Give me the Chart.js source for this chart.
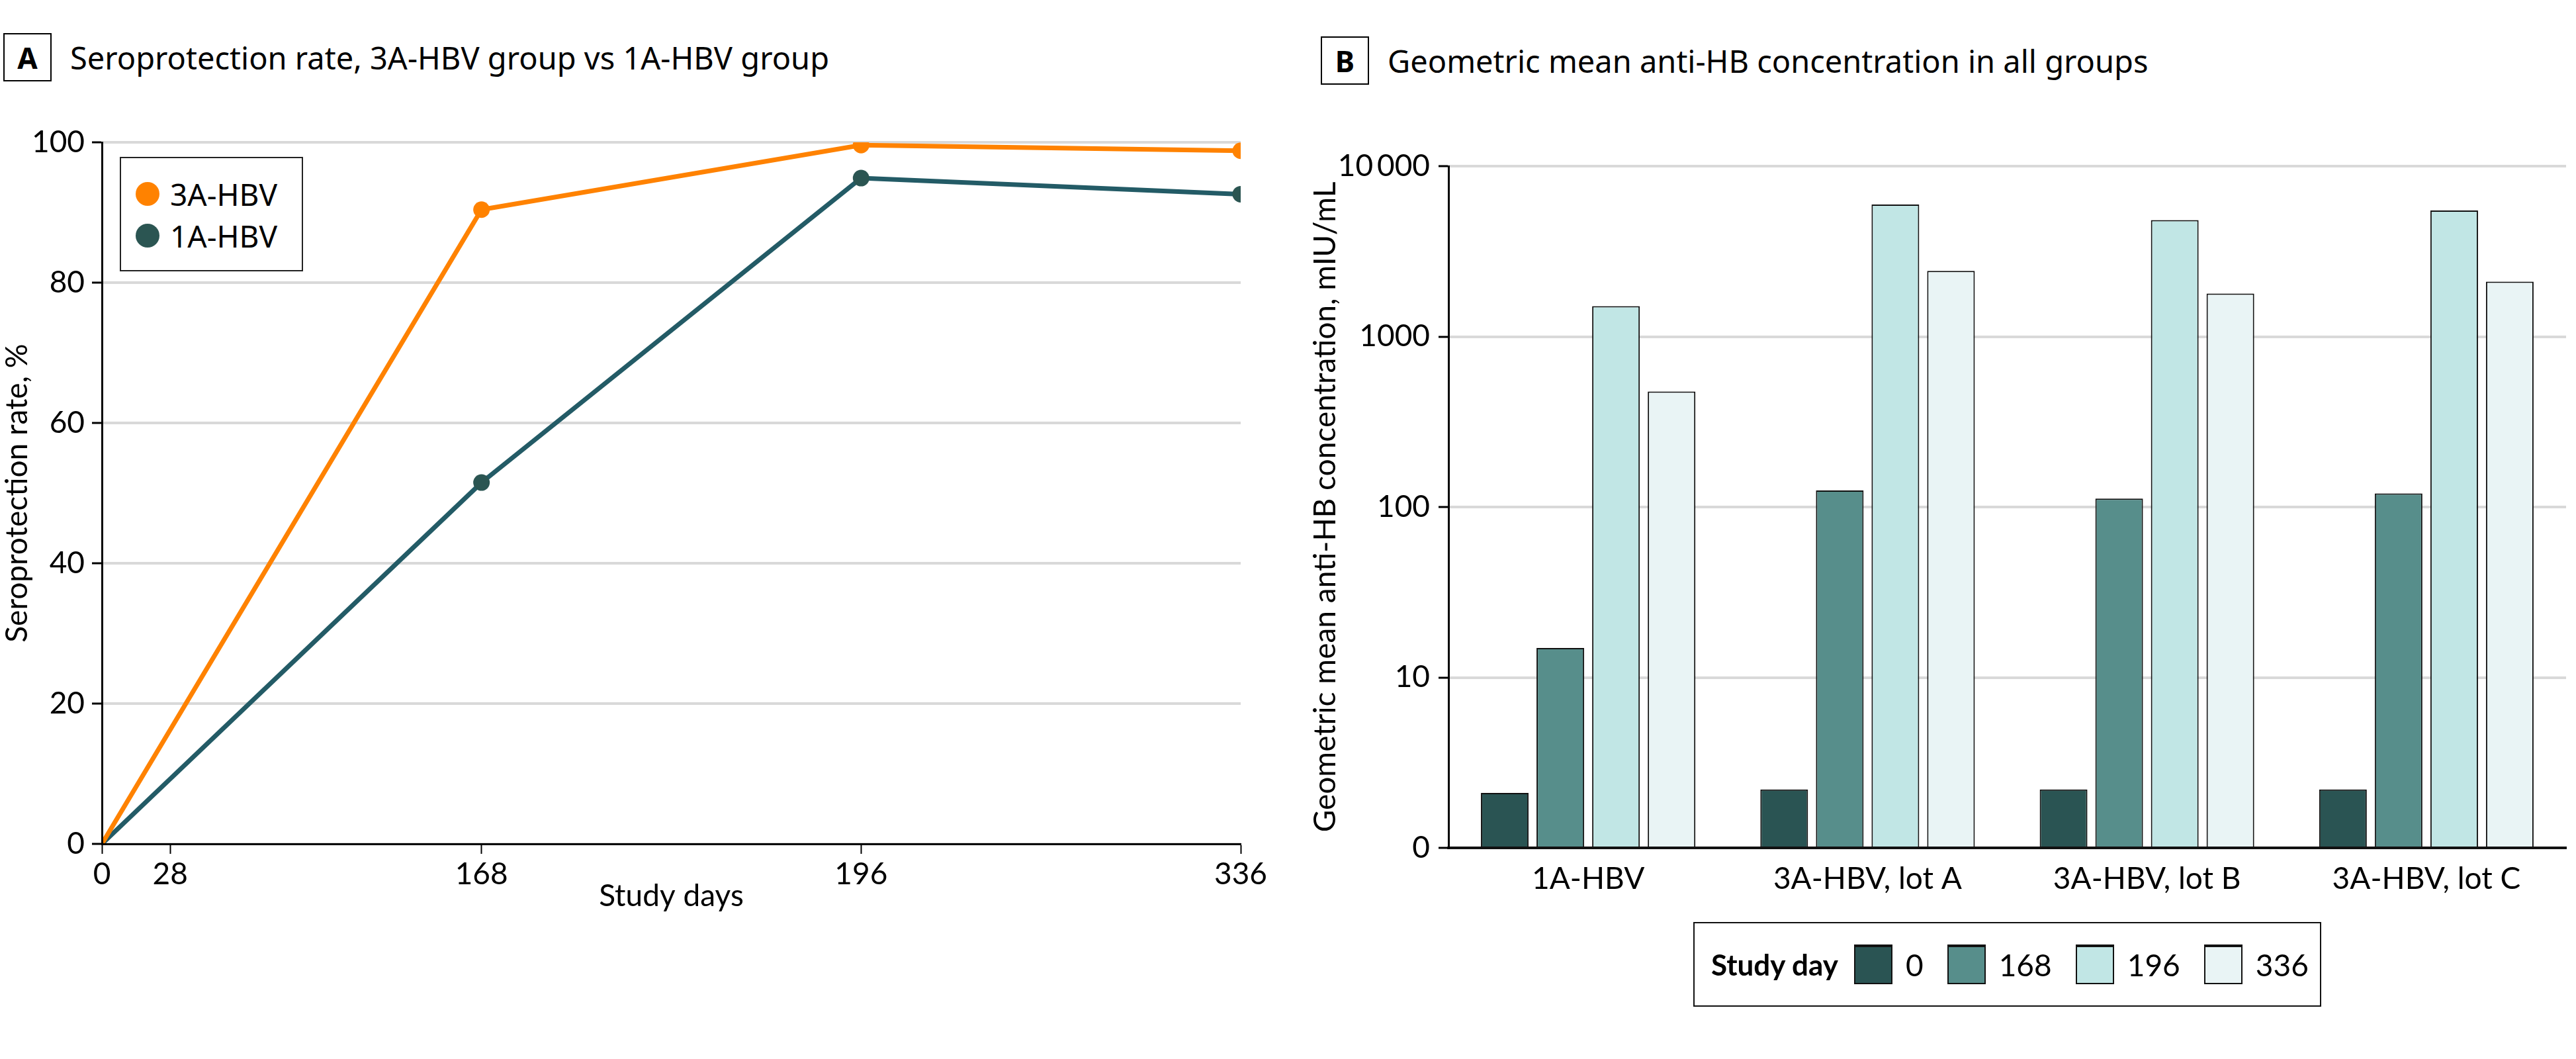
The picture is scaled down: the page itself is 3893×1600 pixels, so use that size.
<!DOCTYPE html>
<html>
<head>
<meta charset="utf-8">
<script src="https://cdn.jsdelivr.net/npm/chart.js@4.4.1/dist/chart.umd.min.js"></script>
<style>
    html, body { margin: 0; padding: 0; background: #fff; }
    body { width: 3893px; height: 1600px; position: relative; overflow: hidden; font-family: Lato, "Noto Sans", sans-serif; color: #000; }
    .head { position: absolute; display: flex; align-items: center; height: 73px; }
    .head .tag { box-sizing: border-box; width: 73px; height: 73px; border: 2px solid #000; display: flex; align-items: center; justify-content: center; font-weight: bold; font-size: 44px; font-family: "Noto Sans", sans-serif; }
    .head .ttl { font-size: 47px; margin-left: 28px; white-space: nowrap; font-family: "Noto Sans", sans-serif; }
    canvas { position: absolute; top: 0; }
    #legendA { position: absolute; left: 181px; top: 237px; width: 277px; height: 173px; box-sizing: border-box; border: 2px solid #222; background: #fff; padding: 22px 0 0 22px; font-family: "Noto Sans", sans-serif; }
    #legendA .row { display: flex; align-items: center; height: 63px; font-size: 46px; white-space: nowrap; }
    #legendA .dot { width: 36px; height: 36px; border-radius: 50%; margin-right: 16px; }
    #legendB { position: absolute; left: 2559px; top: 1393px; width: 949px; height: 128px; box-sizing: border-box; border: 2px solid #111; display: flex; align-items: center; padding-left: 25px; font-size: 46px; white-space: nowrap; }
    #legendB .lbl { font-weight: bold; font-size: 44px; margin-right: 24px; }
    #legendB .sw { box-sizing: border-box; width: 58px; height: 60px; border: 2px solid #111; border-top-width: 4px; margin-right: 20px; flex: none; }
    #legendB .txt { margin-right: 36px; }
</style>
</head>
<body>
<div class="head" style="left:5px;top:50px"><div class="tag">A</div><div class="ttl">Seroprotection rate, 3A-HBV group vs 1A-HBV group</div></div>
<div class="head" style="left:1996px;top:55px"><div class="tag">B</div><div class="ttl">Geometric mean anti-HB concentration in all groups</div></div>

<canvas id="chartA" width="1950" height="1600" style="left:0"></canvas>
<canvas id="chartB" width="1943" height="1600" style="left:1950px"></canvas>
<div id="legendA"></div>
<div id="legendB"></div>

<script>
// panel A data
var studyDays = [0, 168, 196, 336];
var rate3A = [0, 90.4, 99.6, 98.8];
var rate1A = [0, 51.5, 94.9, 92.6];
var dayTicks = [0, 28, 168, 196, 336];
// the figure spaces its day axis unevenly, these are the tick slots
var dayTickSlots = [0, 0.18, 1, 2, 3];

// panel B data
var groups = ["1A-HBV", "3A-HBV, lot A", "3A-HBV, lot B", "3A-HBV, lot C"];
var gmcDay0 = [2.1, 2.2, 2.2, 2.2];
var gmcDay168 = [14.9, 125, 112, 120];
var gmcDay196 = [1510, 5950, 4830, 5490];
var gmcDay336 = [476, 2430, 1790, 2100];
var logTicks = [1, 10, 100, 1000, 10000];

var orange = "#ff8200";
var tealLine = "#235b66";
var tealDot = "#2b5552";
var barColors = ["#2a5453", "#578e8b", "#c1e6e5", "#e9f4f5"];

function toSlot(day) {
    for (var i = 1; i < dayTicks.length; i++) {
        if (day <= dayTicks[i]) {
            var t = (day - dayTicks[i - 1]) / (dayTicks[i] - dayTicks[i - 1]);
            return dayTickSlots[i - 1] + t * (dayTickSlots[i] - dayTickSlots[i - 1]);
        }
    }
    return dayTickSlots[dayTickSlots.length - 1];
}

function points(vals) {
    return studyDays.map(function (d, i) { return { x: toSlot(d), y: vals[i] }; });
}

var font = "Lato, 'Noto Sans', sans-serif";
Chart.defaults.font.family = font;
Chart.defaults.color = "#000";

var seriesA = [
    { label: "3A-HBV", data: points(rate3A), line: orange, dot: orange },
    { label: "1A-HBV", data: points(rate1A), line: tealLine, dot: tealDot }
];

new Chart(document.getElementById("chartA"), {
    type: "line",
    data: {
        datasets: seriesA.map(function (s) {
            return {
                label: s.label,
                data: s.data,
                borderColor: s.line,
                borderWidth: 7,
                backgroundColor: s.dot,
                pointBackgroundColor: s.dot,
                pointBorderWidth: 0,
                pointRadius: function (c) { return c.dataIndex === 0 ? 0 : 12.5; },
                tension: 0
            };
        })
    },
    options: {
        responsive: false,
        animation: false,
        layout: { padding: { top: 215, right: 75, bottom: 218, left: 0 } },
        plugins: { legend: { display: false }, tooltip: { enabled: false } },
        scales: {
            x: {
                type: "linear",
                min: 0,
                max: 3,
                afterBuildTicks: function (axis) {
                    axis.ticks = dayTicks.map(function (d) { return { value: toSlot(d) }; });
                },
                afterFit: function (axis) { axis.height = 107; },
                ticks: {
                    autoSkip: false,
                    maxRotation: 0,
                    padding: 4,
                    font: { size: 46 },
                    callback: function (v, i) { return String(dayTicks[i]); }
                },
                grid: { drawOnChartArea: false, tickLength: 15, tickColor: "#000", tickWidth: 2 },
                border: { color: "#000", width: 3, z: 1 },
                title: { display: true, text: "Study days", font: { size: 46 }, padding: 0 }
            },
            y: {
                min: 0,
                max: 100,
                afterFit: function (axis) { axis.width = 154; },
                ticks: { stepSize: 20, padding: 11, font: { size: 46 } },
                grid: { color: "#d9d9d9", lineWidth: 4, tickLength: 15, tickColor: "#000", tickWidth: 3 },
                border: { color: "#000", width: 3, z: 1 },
                title: { display: true, text: "Seroprotection rate, %", font: { size: 46, lineHeight: 1 }, padding: { top: 3 } }
            }
        }
    }
});

var seriesB = [
    { label: "0", data: gmcDay0 },
    { label: "168", data: gmcDay168 },
    { label: "196", data: gmcDay196 },
    { label: "336", data: gmcDay336 }
];

new Chart(document.getElementById("chartB"), {
    type: "bar",
    data: {
        labels: groups,
        datasets: seriesB.map(function (s, i) {
            return {
                label: s.label,
                data: s.data,
                backgroundColor: barColors[i],
                borderColor: "#111",
                borderWidth: 2,
                categoryPercentage: 0.796,
                barPercentage: 0.857
            };
        })
    },
    options: {
        responsive: false,
        animation: false,
        layout: { padding: { top: 251, right: 15, bottom: 219, left: 0 } },
        plugins: { legend: { display: false }, tooltip: { enabled: false } },
        scales: {
            x: {
                afterFit: function (axis) { axis.height = 100; },
                ticks: { padding: 20, maxRotation: 0, autoSkip: false, font: { size: 46 } },
                grid: { drawOnChartArea: false, drawTicks: false },
                border: { color: "#111", width: 4, z: 1 }
            },
            y: {
                type: "logarithmic",
                min: 1,
                max: 10000,
                afterBuildTicks: function (axis) {
                    axis.ticks = logTicks.map(function (v) { return { value: v }; });
                },
                afterFit: function (axis) { axis.width = 239; },
                ticks: {
                    padding: 13,
                    font: { size: 46 },
                    callback: function (v) {
                        if (v === 1) return "0";
                        if (v === 10000) return "10\u2009000";
                        return String(v);
                    }
                },
                grid: { color: "#d9d9d9", lineWidth: 4, tickLength: 15, tickColor: "#000", tickWidth: 3 },
                border: { color: "#000", width: 3, z: 1 },
                title: { display: true, text: "Geometric mean anti-HB concentration, mIU/mL", font: { size: 46 }, padding: { top: 26 } }
            }
        }
    }
});

// legends
var legA = document.getElementById("legendA");
seriesA.forEach(function (s) {
    var row = document.createElement("div");
    row.className = "row";
    var dot = document.createElement("div");
    dot.className = "dot";
    dot.style.background = s.dot;
    row.append(dot);
    row.append(document.createTextNode(s.label));
    legA.append(row);
});

var legB = document.getElementById("legendB");
var t = document.createElement("span");
t.className = "lbl";
t.innerText = "Study day";
legB.append(t);
seriesB.forEach(function (s, i) {
    var sw = document.createElement("div");
    sw.className = "sw";
    sw.style.background = barColors[i];
    legB.append(sw);
    var tx = document.createElement("span");
    tx.className = "txt";
    tx.innerText = s.label;
    legB.append(tx);
});
</script>
</body>
</html>
